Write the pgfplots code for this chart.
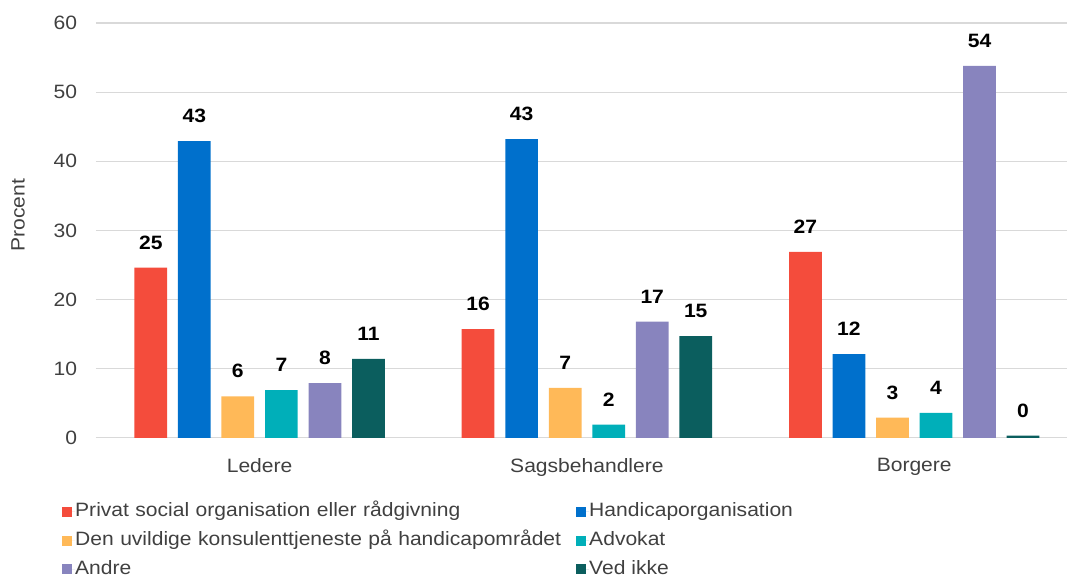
\documentclass[border=0pt]{standalone}
\usepackage{fontspec}
\setmainfont{Liberation Sans}[FakeStretch=1.09]
\usepackage{pgfplots}
\pgfplotsset{compat=1.18}
\definecolor{cRed}{HTML}{F44C3C}
\definecolor{cBlue}{HTML}{0070CC}
\definecolor{cOrange}{HTML}{FFB958}
\definecolor{cTeal}{HTML}{00AFB9}
\definecolor{cPurple}{HTML}{8884BE}
\definecolor{cDark}{HTML}{0B5E5E}
\definecolor{gridgray}{HTML}{D9D9D9}
\definecolor{textgray}{HTML}{404040}
\newcommand{\chartfont}{\fontsize{14.5}{17}\selectfont}

\begin{document}
\begin{tikzpicture}
\begin{axis}[
  scale only axis, width=729pt, height=311.25pt,
  xmin=-0.5, xmax=2.468, ymin=0, ymax=60,
  ytick={0,10,...,60},
  xtick={0,1,2}, xticklabels={Ledere,Sagsbehandlere,Borgere},
  axis line style={draw=none},
  major tick length=0pt,
  ymajorgrids, grid style={draw=gridgray, line width=0.9pt},
  ybar, bar width=0.1,
  tick label style={text=textgray, font=\chartfont},
  /pgf/number format/assume math mode=true,
  yticklabel style={inner sep=0pt, xshift=-14pt},
  xticklabel style={inner sep=0pt, yshift=-15pt},
  ylabel={Procent},
  every axis y label/.style={at={(axis description cs:-0.0802,0.537)}, rotate=90, anchor=center, text=textgray, font=\chartfont},
  point meta=explicit symbolic,
  nodes near coords,
  every node near coord/.append style={font=\bfseries\chartfont, text=black, inner sep=0pt, anchor=south, yshift=13.5pt},
  legend columns=2,
  legend cell align=left,
  legend style={draw=none, fill=none, inner sep=0pt, font=\chartfont, text=textgray,
    at={(axis description cs:-0.035,-0.1566)}, anchor=north west,
    column sep=0pt, row sep=8pt,
    cells={anchor=west},
    nodes={inner sep=0pt, text height=10.5pt, text depth=3pt},
    /tikz/column 2/.style={text width=376pt}},
  legend image code/.code={\fill[#1] (0pt,-3.75pt) rectangle (7.5pt,3.75pt); \path (0pt,0pt) -- (9.75pt,0pt);},
  clip=false,
]
\addplot[fill=cRed, draw=none, bar shift=-0.3325] coordinates {(0,24.6)[25] (1,15.7)[16] (2,26.9)[27]};
\addplot[fill=cBlue, draw=none, bar shift=-0.1995] coordinates {(0,42.9)[43] (1,43.2)[43] (2,12.1)[12]};
\addplot[fill=cOrange, draw=none, bar shift=-0.0665] coordinates {(0,6.0)[6] (1,7.2)[7] (2,2.9)[3]};
\addplot[fill=cTeal, draw=none, bar shift=0.0665] coordinates {(0,6.9)[7] (1,1.9)[2] (2,3.6)[4]};
\addplot[fill=cPurple, draw=none, bar shift=0.1995] coordinates {(0,7.9)[8] (1,16.8)[17] (2,53.8)[54]};
\addplot[fill=cDark, draw=none, bar shift=0.3325] coordinates {(0,11.4)[11] (1,14.7)[15] (2,0.3)[0]};
\legend{Privat social organisation eller rådgivning, Handicaporganisation,
  Den uvildige konsulenttjeneste på handicapområdet, Advokat, Andre, Ved ikke}
\coordinate (sw) at (rel axis cs:0,0);
\end{axis}
\path (sw) ++(-72pt,-104.25pt) rectangle ++(801pt,432.75pt);
\end{tikzpicture}
\end{document}
